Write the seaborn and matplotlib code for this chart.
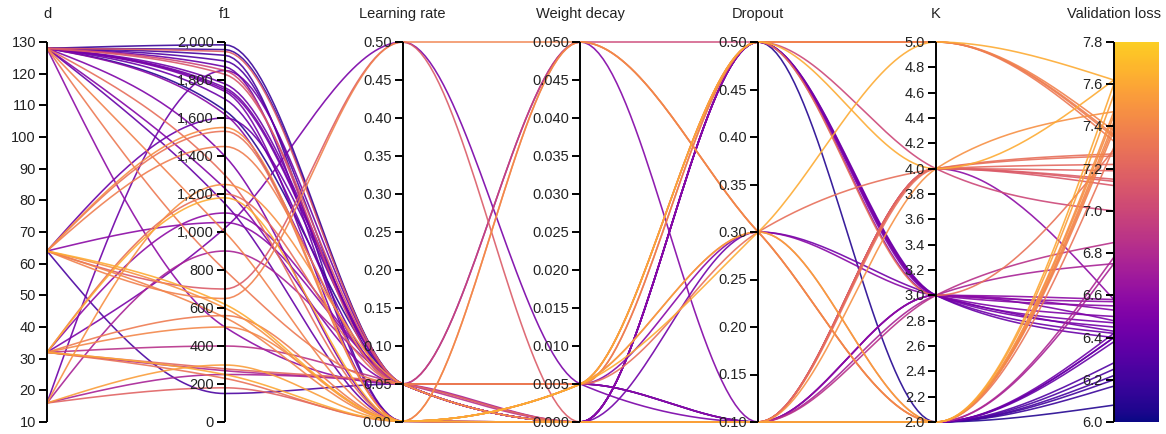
import numpy as np
import pandas as pd
import matplotlib
matplotlib.use("Agg")
import matplotlib.pyplot as plt
from matplotlib.colors import ListedColormap
import seaborn as sns

# ---------------- data ----------------
axis_names = ["d", "f1", "Learning rate", "Weight decay", "Dropout", "K", "Validation loss"]
axis_ranges = [(10, 130), (0, 2000), (0.0, 0.5), (0.0, 0.05), (0.1, 0.5), (2.0, 5.0), (6.0, 7.8)]
axis_ticks = [
    [10, 20, 30, 40, 50, 60, 70, 80, 90, 100, 110, 120, 130],
    [0, 200, 400, 600, 800, 1000, 1200, 1400, 1600, 1800, 2000],
    [0.0, 0.05, 0.10, 0.15, 0.20, 0.25, 0.30, 0.35, 0.40, 0.45, 0.50],
    [0.0, 0.005, 0.010, 0.015, 0.020, 0.025, 0.030, 0.035, 0.040, 0.045, 0.050],
    [0.10, 0.15, 0.20, 0.25, 0.30, 0.35, 0.40, 0.45, 0.50],
    [2.0, 2.2, 2.4, 2.6, 2.8, 3.0, 3.2, 3.4, 3.6, 3.8, 4.0, 4.2, 4.4, 4.6, 4.8, 5.0],
    [6.0, 6.2, 6.4, 6.6, 6.8, 7.0, 7.2, 7.4, 7.6, 7.8],
]
tick_formats = ["{:.0f}", "{:,.0f}", "{:.2f}", "{:.3f}", "{:.2f}", "{:.1f}", "{:.1f}"]

d = [128, 128, 128, 128, 128, 128, 128, 128, 128, 128, 128, 128, 128, 128, 128, 128,
     64, 64, 16, 32, 64, 32,
     128, 16, 32, 32, 16,
     128, 128, 64, 16, 32, 128, 128, 64, 64, 32, 64,
     64, 32, 32, 16, 32, 64,
     32, 64, 32, 16, 64, 128]
f1 = [1985, 1960, 1930, 1900, 1870, 1780, 1760, 1750, 1740, 1700, 1640, 1620, 1400, 1230, 500, 1150,
      1600, 1050, 1850, 1020, 150, 1100,
      1850, 900, 400, 270, 250,
      1950, 1830, 700, 180, 280, 1300, 800, 650, 550, 1200, 1530,
      1550, 560, 500, 1250, 230, 600,
      1180, 620, 250, 300, 1450, 1000]
learning_rate = [0.05, 0.05, 0.001, 0.05, 0.001, 0.05, 0.05, 0.05, 0.001, 0.05, 0.05, 0.05, 0.001, 0.05, 0.05, 0.001,
                 0.05, 0.05, 0.05, 0.5, 0.05, 0.05,
                 0.05, 0.05, 0.05, 0.05, 0.05,
                 0.05, 0.05, 0.5, 0.001, 0.05, 0.001, 0.05, 0.5, 0.001, 0.05, 0.001,
                 0.001, 0.001, 0.001, 0.05, 0.001, 0.001,
                 0.001, 0.001, 0.001, 0.001, 0.05, 0.001]
weight_decay = [0.0, 0.0, 0.0, 0.005, 0.0, 0.0, 0.0, 0.0, 0.0, 0.005, 0.0, 0.005, 0.0, 0.05, 0.005, 0.0,
                0.0, 0.0, 0.0, 0.005, 0.005, 0.0,
                0.05, 0.0, 0.0, 0.0, 0.0,
                0.0, 0.0, 0.0, 0.0, 0.0, 0.0, 0.005, 0.05, 0.05, 0.005, 0.005,
                0.0, 0.005, 0.05, 0.0, 0.005, 0.0,
                0.005, 0.005, 0.0, 0.005, 0.005, 0.005]
dropout = [0.1, 0.1, 0.1, 0.1, 0.5, 0.5, 0.3, 0.5, 0.5, 0.1, 0.5, 0.3, 0.5, 0.1, 0.1, 0.1,
           0.1, 0.5, 0.1, 0.1, 0.1, 0.1,
           0.5, 0.1, 0.1, 0.1, 0.1,
           0.1, 0.1, 0.1, 0.1, 0.1, 0.1, 0.5, 0.3, 0.3, 0.3, 0.3,
           0.1, 0.5, 0.3, 0.1, 0.5, 0.1,
           0.3, 0.5, 0.1, 0.3, 0.5, 0.5]
K = [2, 2, 2, 2, 3, 3, 3, 3, 3, 2, 2, 3, 3, 3, 3, 2,
     2, 3, 2, 3, 2, 4,
     4, 2, 3, 2, 3,
     4, 4, 4, 4, 4, 4, 5, 2, 2, 4, 2,
     2, 5, 2, 4, 3, 2,
     5, 4, 2, 2, 5, 5]
validation_loss = [6.17, 6.20, 6.22, 6.28, 6.40, 6.42, 6.43, 6.45, 6.47, 6.40, 6.08, 6.55, 6.50, 6.53, 6.58, 6.38,
                   6.40, 6.57, 6.42, 6.48, 6.25, 6.58,
                   7.00, 6.75, 6.85, 6.78, 6.75,
                   7.15, 7.12, 7.14, 7.19, 7.22, 7.26, 7.33, 7.38, 7.40, 7.27, 7.30,
                   7.45, 7.35, 7.42, 7.47, 7.29, 7.47,
                   7.62, 7.62, 7.60, 7.55, 7.36, 7.38]

columns = [d, f1, learning_rate, weight_decay, dropout, K, validation_loss]

# ---------------- layout (pixels) ----------------
W, H = 1166, 435
X0, DX = 47.0, 177.8
Y_TOP, Y_BOT = 43.0, 423.0
axis_x = [X0 + i * DX for i in range(len(axis_names))]


def to_py(val, rng):
    lo, hi = rng
    return Y_BOT - (val - lo) / (hi - lo) * (Y_BOT - Y_TOP)


def monotone_curve(xs, ys, n=40):
    """Same construction as d3.curveMonotoneX."""
    xs = np.asarray(xs, float)
    ys = np.asarray(ys, float)
    m = len(xs)
    h = np.diff(xs)
    s = np.diff(ys) / h
    t = np.zeros(m)
    for i in range(1, m - 1):
        h0, h1, s0, s1 = h[i - 1], h[i], s[i - 1], s[i]
        p = (s0 * h1 + s1 * h0) / (h0 + h1)
        t[i] = (np.sign(s0) + np.sign(s1)) * min(abs(s0), abs(s1), 0.5 * abs(p))
    t[0] = (3 * s[0] - t[1]) / 2
    t[-1] = (3 * s[-1] - t[-2]) / 2
    px, py = [], []
    u = np.linspace(0, 1, n)
    for i in range(m - 1):
        dx = (xs[i + 1] - xs[i]) / 3
        P0 = (xs[i], ys[i])
        P1 = (xs[i] + dx, ys[i] + dx * t[i])
        P2 = (xs[i + 1] - dx, ys[i + 1] - dx * t[i + 1])
        P3 = (xs[i + 1], ys[i + 1])
        uu = u if i == 0 else u[1:]
        bx = (1 - uu) ** 3 * P0[0] + 3 * (1 - uu) ** 2 * uu * P1[0] + 3 * (1 - uu) * uu ** 2 * P2[0] + uu ** 3 * P3[0]
        by = (1 - uu) ** 3 * P0[1] + 3 * (1 - uu) ** 2 * uu * P1[1] + 3 * (1 - uu) * uu ** 2 * P2[1] + uu ** 3 * P3[1]
        px.extend(bx)
        py.extend(by)
    return np.array(px), np.array(py)


records = []
for r in range(len(d)):
    vals = [col[r] for col in columns]
    ys = [to_py(v, rng) for v, rng in zip(vals, axis_ranges)]
    px, py = monotone_curve(axis_x, ys)
    for j, (a, b) in enumerate(zip(px, py)):
        records.append((r, j, a, b, validation_loss[r]))
df = pd.DataFrame(records, columns=["row", "order", "px", "py", "loss"])

# ---------------- plot ----------------
sns.set_theme(style="white")
plt.rcParams["font.family"] = ["Liberation Sans", "DejaVu Sans"]

cmap = ListedColormap(plt.cm.plasma(np.linspace(0.0, 0.9, 256)))

fig = plt.figure(figsize=(W / 100, H / 100), dpi=100)
ax = fig.add_axes([0, 0, 1, 1])
ax.set_xlim(0, W)
ax.set_ylim(H, 0)
ax.axis("off")

sns.lineplot(data=df, x="px", y="py", hue="loss", units="row", estimator=None, sort=False,
             palette=cmap, hue_norm=(6.0, 7.8), legend=False, linewidth=1.15, alpha=0.9, ax=ax)

# colour bar on last axis
grad = np.linspace(1, 0, 256).reshape(-1, 1)
ax.imshow(grad, cmap=cmap, aspect="auto", extent=(axis_x[-1], axis_x[-1] + 45, Y_BOT, Y_TOP),
          zorder=3, interpolation="bilinear")

# axes, ticks, labels
for xi, name, rng, ticks, fmt in zip(axis_x, axis_names, axis_ranges, axis_ticks, tick_formats):
    ax.plot([xi, xi], [Y_TOP, Y_BOT], color="black", lw=1.4, zorder=5, solid_capstyle="butt")
    for tv in ticks:
        yy = to_py(tv, rng)
        ax.plot([xi - 8, xi], [yy, yy], color="black", lw=1.4, zorder=5, solid_capstyle="butt")
        ax.text(xi - 11, yy, fmt.format(tv), ha="right", va="center", fontsize=10.5,
                color="#222222", zorder=6)
    ax.text(xi, 14, name, ha="center", va="center", fontsize=10.5, color="#222222", zorder=6)

fig.savefig("out.png", dpi=100)
